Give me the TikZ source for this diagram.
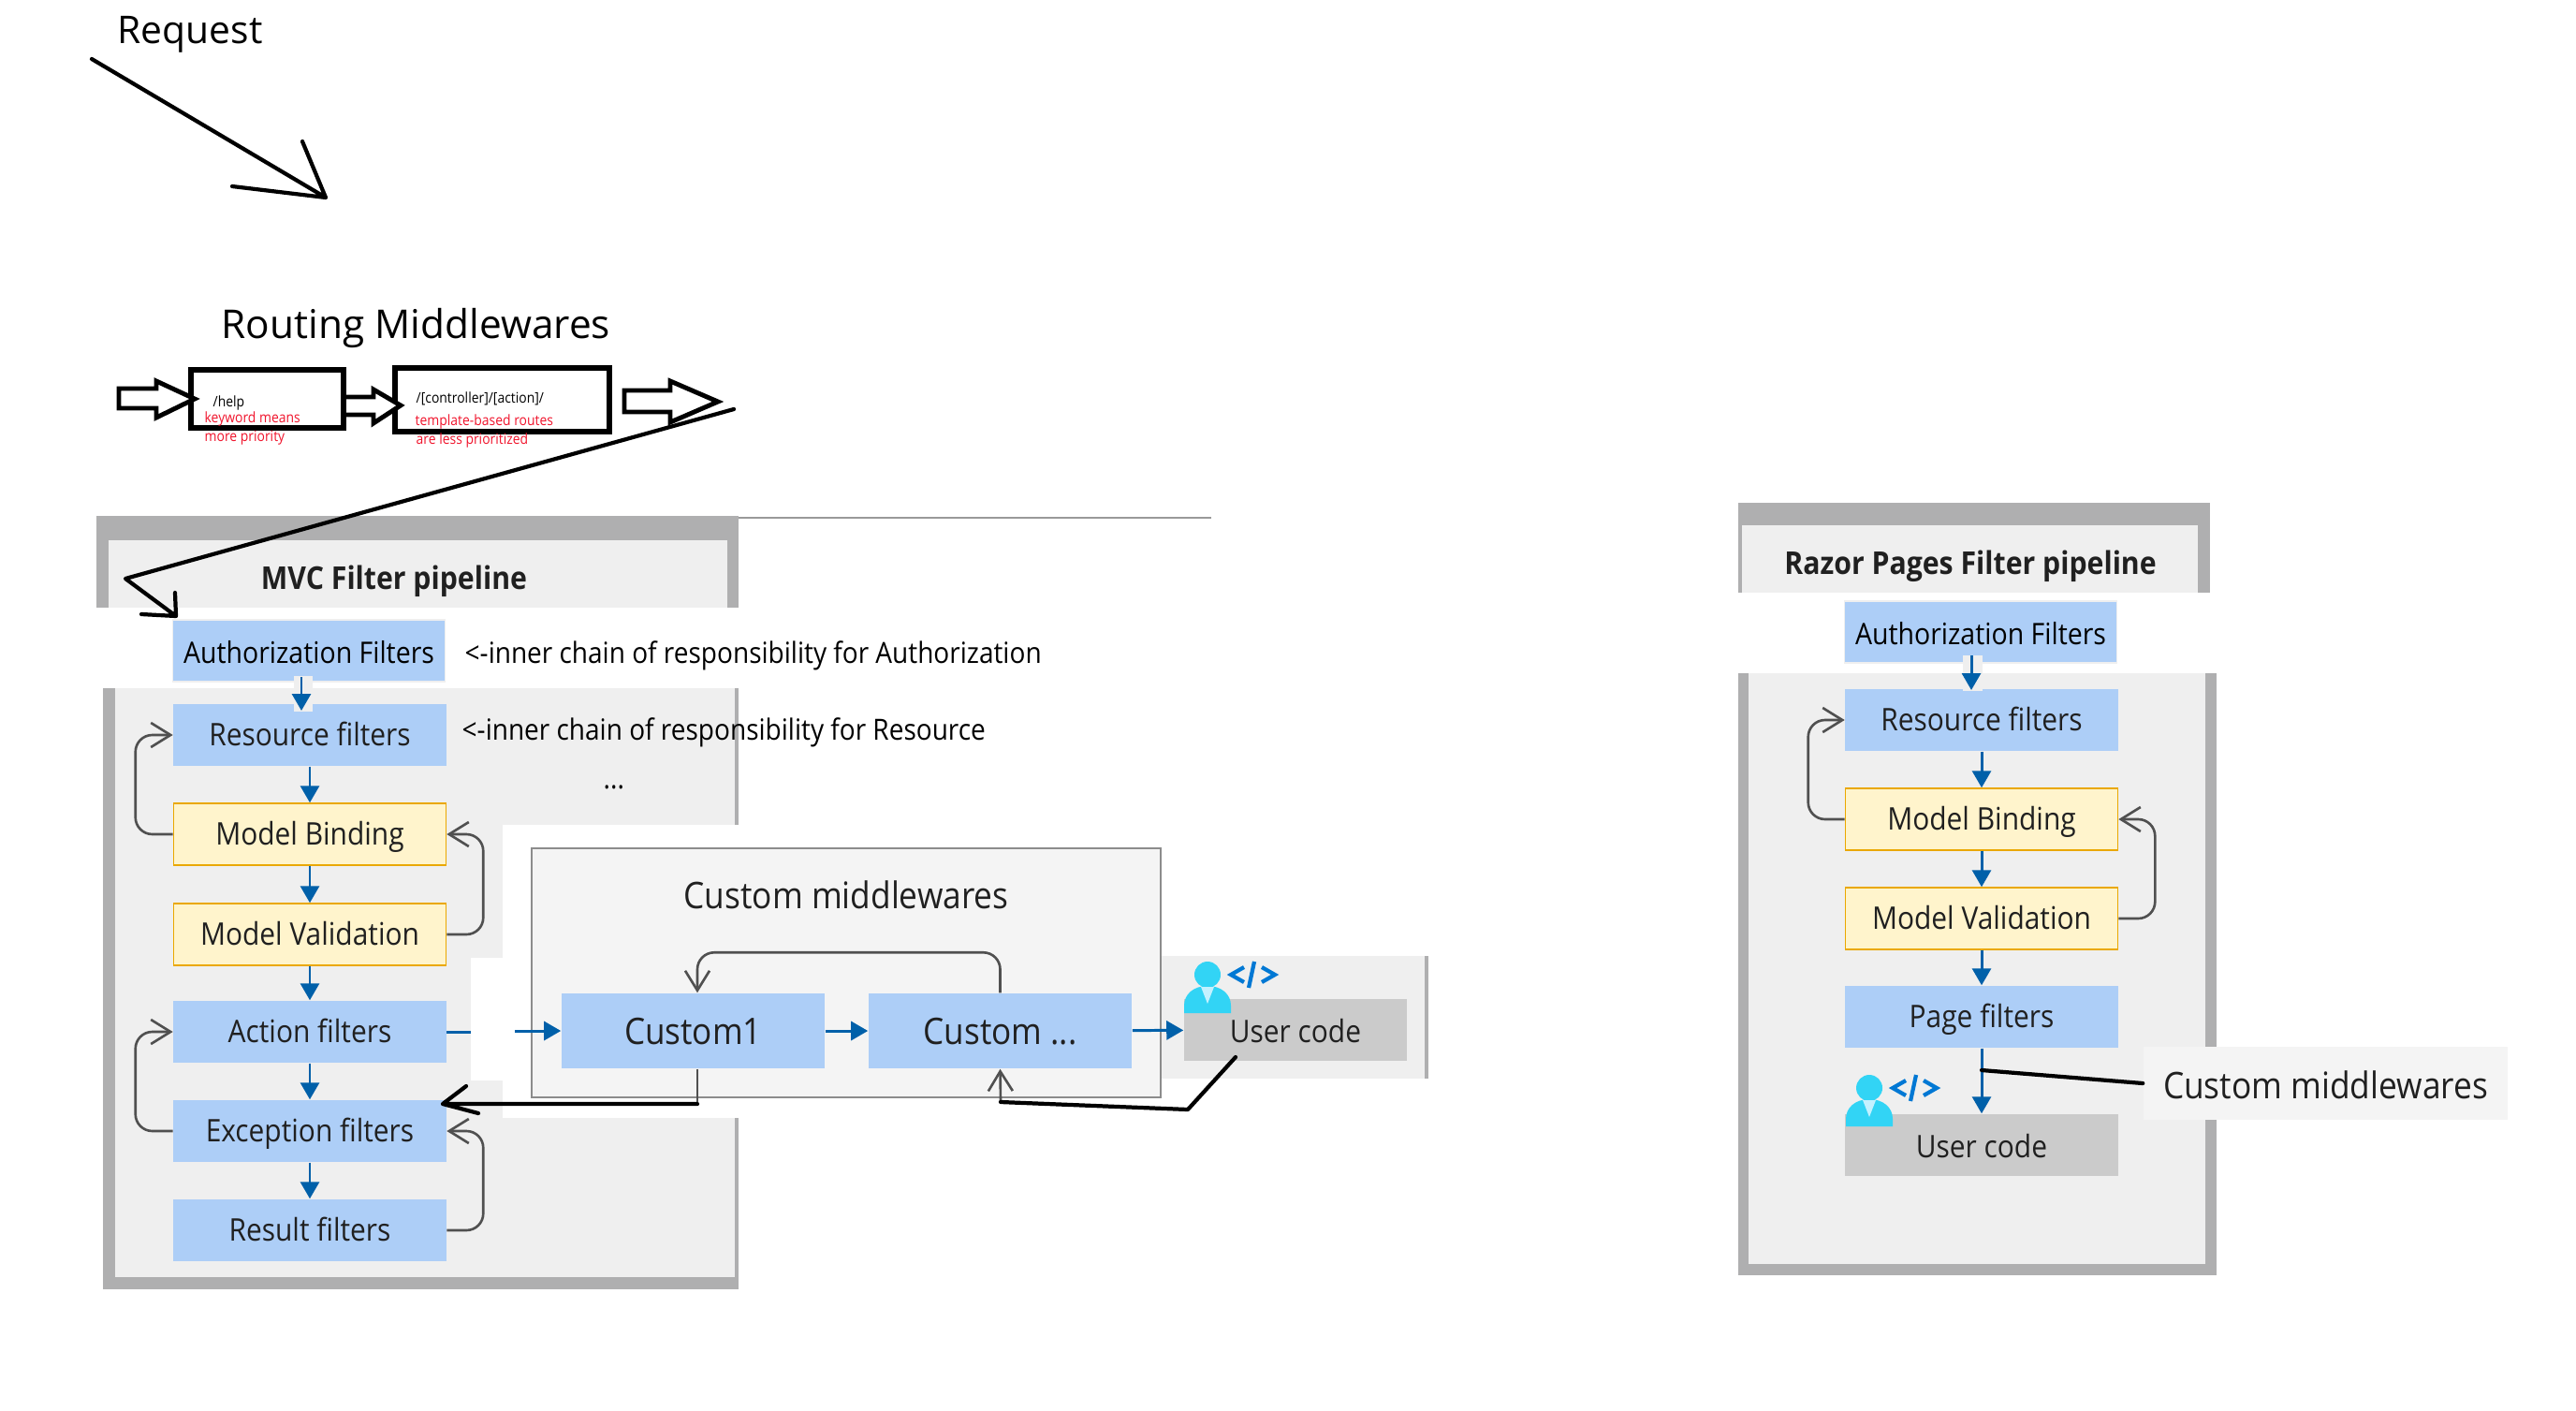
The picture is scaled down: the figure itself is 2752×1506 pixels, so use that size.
\documentclass[tikz,border=0pt]{standalone}
\usepackage{fontspec}
\setmainfont[FakeStretch=0.9]{Open Sans}
\newfontfamily\plainfont{Open Sans}
\usetikzlibrary{arrows.meta,positioning}
\definecolor{panelgray}{HTML}{AFAFB0}
\definecolor{panellight}{HTML}{EFEFEF}
\definecolor{midlight}{HTML}{F4F4F4}
\definecolor{filterblue}{HTML}{ADCEF7}
\definecolor{bindyellow}{HTML}{FFF4CC}
\definecolor{bindedge}{HTML}{EAA800}
\definecolor{usergray}{HTML}{CBCBCB}
\definecolor{flowblue}{HTML}{0060A9}
\definecolor{loopgray}{HTML}{505050}
\definecolor{inktext}{HTML}{202020}
\definecolor{notered}{HTML}{F0142C}
\definecolor{iconcyan}{HTML}{32D4F5}
\definecolor{icontie}{HTML}{C3F1FF}
\definecolor{iconblue}{HTML}{0078D4}
\tikzset{
	filterbox/.style={fill=filterblue,text=inktext,minimum width=2.91cm,minimum height=.66cm,inner sep=0pt,font=\fontsize{9.45}{12}\selectfont,text height=.23cm,text depth=0pt},
	authbox/.style={filterbox,draw=panellight,text=black,font=\fontsize{9}{12}\selectfont,text height=.26cm},
	bindbox/.style={filterbox,fill=bindyellow,draw=bindedge,line width=.4pt},
	codebox/.style={filterbox,fill=usergray,text height=.26cm},
	midbox/.style={filterbox,minimum width=2.81cm,minimum height=.80cm,font=\fontsize{11.1}{13}\selectfont,text height=.28cm},
	routebox/.style={draw=black,line width=1.5pt,inner sep=0pt},
	flow/.style={draw=flowblue,line width=.85pt,-{Triangle[length=.18cm,width=.2cm]}},
	loopback/.style={draw=loopgray,line width=.75pt,rounded corners=.18cm,-{Straight Barb[length=.21cm,width=.26cm]}},
	inkline/.style={draw=black,line width=1.2pt,line cap=round,line join=round},
	hollow/.style={draw=black,line width=1.4pt,line join=miter,fill=white},
	label/.style={inner sep=0pt,anchor=base west,text=black},
	usericon/.pic={
		\fill[iconcyan] (25,14) ellipse (14 and 14);
		\fill[iconcyan] (0,55) -- (0,47) .. controls (0,35) and (10,26) .. (25,26) .. controls (40,26) and (50,35) .. (50,47) -- (50,55) -- cycle;
		\fill[icontie] (18,27) -- (32,27) -- (25,45) -- cycle;
		\draw[iconblue,line width=1.2pt] (64,6) -- (50,14) -- (64,22) (83,6) -- (97,14) -- (83,22) (75,0) -- (69,28);
	}
}

\begin{document}
\begin{tikzpicture}[x=.01cm,y=-.01cm]

	\useasboundingbox (0,0) rectangle (2752,1506);

	% mvc panels
	\fill[panelgray] (110,735) rectangle (789,1377);
	\fill[panellight] (123,735) rectangle (785,1364);
	\fill[panelgray] (103,551) rectangle (789,649);
	\fill[panellight] (116,577) rectangle (777,649);
	\draw[gray!80,line width=.3pt] (789,553) -- (1294,553);
	\fill[white] (537,881) rectangle (800,1194);
	\fill[white] (503,1023) rectangle (537,1154);
	\fill[panellight] (1240,1021) rectangle (1526,1152);
	\fill[panelgray] (1522,1021) rectangle (1526,1152);
	\filldraw[fill=midlight,draw=gray!90,line width=.3pt] (568,906) rectangle (1240,1172);

	% razor panels
	\fill[panelgray] (1857,719) rectangle (2368,1362);
	\fill[panellight] (1868,719) rectangle (2356,1350);
	\fill[panelgray] (1857,537) rectangle (2361,633);
	\fill[panellight] (1861,561) rectangle (2348,633);

	\node[label,font=\plainfont\fontsize{11.6}{14}\selectfont] (request) at (125,46) {Request};
	\node[label,font=\plainfont\fontsize{12.05}{15}\selectfont] (routingtitle) at (236,361) {Routing Middlewares};

	% routing boxes
	\node[routebox,minimum width=1.63cm,minimum height=.62cm] (helproute) at (285.5,426) {};
	\node[routebox,minimum width=2.29cm,minimum height=.68cm] (ctrlroute) at (536.5,427) {};
	\node[label,font=\fontsize{4.4}{6}\selectfont] (helptext) at (227,434) {/help};
	\node[label,font=\fontsize{4.4}{6}\selectfont,text=notered] (helpnote) at (218,451) {keyword means};
	\node[label,font=\fontsize{4.4}{6}\selectfont,text=notered] (helpnotetwo) at (218,471) {more priority};
	\node[label,font=\fontsize{4.4}{6}\selectfont] (ctrltext) at (444,430) {/[controller]/[action]/};
	\node[label,font=\fontsize{4.4}{6}\selectfont,text=notered] (ctrlnote) at (443,454) {template-based routes};
	\node[label,font=\fontsize{4.4}{6}\selectfont,text=notered] (ctrlnotetwo) at (444,474) {are less prioritized};

	\draw[hollow] (127,415) -- (167,415) -- (167,407) -- (208,426) -- (167,446) -- (167,436) -- (127,436) -- cycle;
	\draw[hollow] (370,424) -- (399,424) -- (399,416) -- (428,433) -- (399,452) -- (399,443) -- (370,443);
	\draw[hollow] (667,417) -- (716,417) -- (716,407) -- (767,429) -- (716,451) -- (716,440) -- (667,440) -- cycle;

	% mvc filters
	\node[font=\fontsize{9.55}{12}\selectfont\bfseries,text=inktext,inner sep=0pt,anchor=base] (mvctitle) at (421,629) {MVC Filter pipeline};
	\node[authbox] (mvcauth) at (330,695) {Authorization Filters};
	\node[filterbox] (mvcresource) at (331,785) {Resource filters};
	\node[bindbox] (mvcbinding) at (331,891) {Model Binding};
	\node[bindbox] (mvcvalidation) at (331,998) {Model Validation};
	\node[filterbox] (mvcaction) at (331,1102) {Action filters};
	\node[filterbox] (mvcexception) at (331,1208) {Exception filters};
	\node[filterbox] (mvcresult) at (331,1314) {Result filters};

	\node[label,font=\fontsize{8.85}{12}\selectfont] (authnote) at (496,708) {<-inner chain of responsibility for Authorization};
	\node[label,font=\fontsize{8.85}{12}\selectfont] (resourcenote) at (493,790) {<-inner chain of responsibility for Resource};
	\node[label,font=\fontsize{8.85}{12}\selectfont] (dots) at (644,842) {...};

	\fill[panellight] (314,722) rectangle (334,760);
	\draw[flow] (322,723) -- (322,759);
	\draw[flow] (mvcresource) -- (mvcbinding);
	\draw[flow] (mvcbinding) -- (mvcvalidation);
	\draw[flow] (mvcvalidation) -- (mvcaction);
	\draw[flow] (mvcaction) -- (mvcexception);
	\draw[flow] (mvcexception) -- (mvcresult);

	\draw[loopback] (mvcbinding.west) -- ++(-40,0) |- (mvcresource.west);
	\draw[loopback] (mvcexception.west) -- ++(-40,0) |- (mvcaction.west);
	\draw[loopback] (mvcvalidation.east) -- ++(39,0) |- (mvcbinding.east);
	\draw[loopback] (mvcresult.east) -- ++(39,0) |- (mvcexception.east);

	% custom middlewares
	\node[inner sep=0pt,anchor=base,text=inktext,font=\fontsize{11.15}{13}\selectfont] (customtitle) at (904,970) {Custom middlewares};
	\node[midbox] (customone) at (740.5,1101) {Custom1};
	\node[midbox] (customtwo) at (1068.5,1101) {Custom ...};
	\node[codebox,minimum width=2.38cm] (mvcuser) at (1384,1100) {User code};
	\pic at (1265,1027) {usericon};

	\draw[flowblue,line width=.85pt] (mvcaction.east) -- (503,1102);
	\coordinate (actionout) at (550,1101);
	\draw[flow] (actionout) -- (customone);
	\draw[flow] (customone) -- (customtwo);
	\draw[flow] (customtwo) -- (mvcuser);

	\coordinate (customdrop) at (745,1179);
	\coordinate (customrise) at (1069,1177);
	\coordinate (userbend) at (1269,1185);
	\coordinate (userleave) at (1320,1129);
	\coordinate (exctip) at (473,1179);
	\draw[loopback] (customtwo.north) -- ++(0,-43) -| (customone.north -| customdrop);
	\draw[loopgray,line width=.75pt] (customone.south -| customdrop) -- (customdrop);
	\draw[loopback] (customrise) -- (customtwo.south);
	\draw[inkline] (customdrop) -- (exctip) -- (498,1160) (exctip) -- (511,1189);
	\draw[inkline] (customrise) -- (userbend) -- (userleave);

	% razor filters
	\node[font=\fontsize{9.55}{12}\selectfont\bfseries,text=inktext,inner sep=0pt,anchor=base] (razortitle) at (2105,613) {Razor Pages Filter pipeline};
	\node[authbox] (razorauth) at (2116,675) {Authorization Filters};
	\node[filterbox] (razorresource) at (2117,769) {Resource filters};
	\node[bindbox] (razorbinding) at (2117,875) {Model Binding};
	\node[bindbox] (razorvalidation) at (2117,981) {Model Validation};
	\node[filterbox] (razorpage) at (2117,1086) {Page filters};
	\node[codebox] (razoruser) at (2117,1223) {User code};
	\pic at (1972,1148) {usericon};

	\fill[panellight] (2097,700) rectangle (2118,738);
	\draw[flow] (2106,700) -- (2106,737);
	\draw[flow] (razorresource) -- (razorbinding);
	\draw[flow] (razorbinding) -- (razorvalidation);
	\draw[flow] (razorvalidation) -- (razorpage);
	\draw[flow] (razorpage) -- (razoruser);

	\draw[loopback] (razorbinding.west) -- ++(-39,0) |- (razorresource.west);
	\draw[loopback] (razorvalidation.east) -- ++(39,0) |- (razorbinding.east);

	\node[fill=midlight,minimum width=3.89cm,minimum height=.78cm,inner sep=0pt,text=inktext,font=\fontsize{11.15}{13}\selectfont,text height=.33cm,text depth=0pt] (razorcustom) at (2484.5,1157) {Custom middlewares};
	\coordinate (razorjoin) at (2117,1143);
	\draw[inkline] (razorjoin) -- (razorcustom.west);

	% hand drawn arrows
	\coordinate (reqstart) at (98,63);
	\coordinate (reqtip) at (348,211);
	\draw[inkline] (reqstart) -- (reqtip) -- (323,151) (reqtip) -- (248,199);
	\coordinate (mvcstart) at (784,437);
	\coordinate (mvcbend) at (134,618);
	\coordinate (mvctip) at (188,658);
	\draw[inkline] (mvcstart) -- (mvcbend) -- (mvctip) -- (187,633) (mvctip) -- (151,656);

\end{tikzpicture}
\end{document}
